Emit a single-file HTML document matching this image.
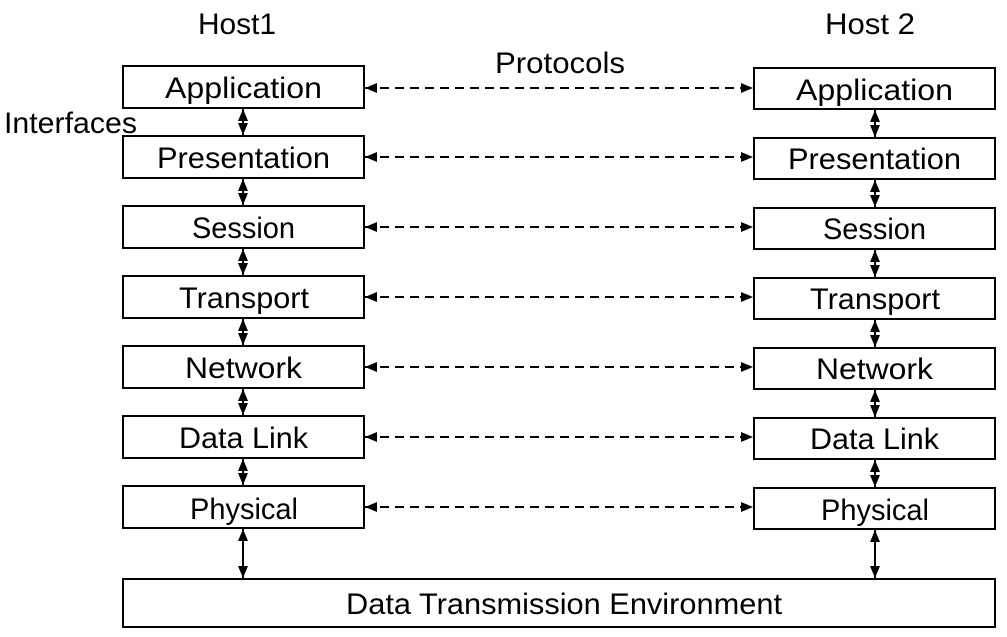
<!DOCTYPE html>
<html><head><meta charset="utf-8"><style>
html,body{margin:0;padding:0;background:#fff;}
svg{display:block;}
text{font-family:"Liberation Sans",sans-serif;font-size:30px;fill:#000;}
</style></head><body>
<svg width="1007" height="637" viewBox="0 0 1007 637" xmlns="http://www.w3.org/2000/svg">
<defs>
<marker id="a" viewBox="0 0 12 10" refX="12" refY="5" markerWidth="12" markerHeight="10" markerUnits="userSpaceOnUse" orient="auto-start-reverse">
<path d="M0,0 L12,5 L0,10 z" fill="#000"/></marker>
</defs>
<text x="198" y="34" textLength="78" lengthAdjust="spacingAndGlyphs">Host1</text>
<text x="825" y="34" textLength="90" lengthAdjust="spacingAndGlyphs">Host 2</text>
<text x="495" y="73" textLength="130" lengthAdjust="spacingAndGlyphs">Protocols</text>
<text x="4" y="133" textLength="133" lengthAdjust="spacingAndGlyphs">Interfaces</text>
<g fill="none" stroke="#000" stroke-width="2">
<rect x="123" y="66" width="241" height="42"/>
<rect x="123" y="136" width="241" height="42"/>
<rect x="123" y="206" width="241" height="42"/>
<rect x="123" y="276" width="241" height="42"/>
<rect x="123" y="346" width="241" height="42"/>
<rect x="123" y="416" width="241" height="42"/>
<rect x="123" y="486" width="241" height="42"/>
<rect x="754" y="68" width="241" height="41"/>
<rect x="754" y="138" width="241" height="41"/>
<rect x="754" y="208" width="241" height="41"/>
<rect x="754" y="278" width="241" height="41"/>
<rect x="754" y="348" width="241" height="41"/>
<rect x="754" y="418" width="241" height="41"/>
<rect x="754" y="488" width="241" height="41"/>
<rect x="123" y="579" width="872" height="48"/>
</g>
<g stroke="#000" stroke-width="2" stroke-dasharray="9,6" marker-start="url(#a)" marker-end="url(#a)">
<line x1="365" y1="88" x2="753" y2="88"/>
<line x1="365" y1="157" x2="753" y2="157"/>
<line x1="365" y1="227" x2="753" y2="227"/>
<line x1="365" y1="297" x2="753" y2="297"/>
<line x1="365" y1="367" x2="753" y2="367"/>
<line x1="365" y1="437" x2="753" y2="437"/>
<line x1="365" y1="507" x2="753" y2="507"/>
</g>
<g stroke="#000" stroke-width="2" marker-start="url(#a)" marker-end="url(#a)">
<line x1="243" y1="109" x2="243" y2="135"/>
<line x1="243" y1="179" x2="243" y2="205"/>
<line x1="243" y1="249" x2="243" y2="275"/>
<line x1="243" y1="319" x2="243" y2="345"/>
<line x1="243" y1="389" x2="243" y2="415"/>
<line x1="243" y1="459" x2="243" y2="485"/>
<line x1="243" y1="529" x2="243" y2="578"/>
<line x1="875" y1="110" x2="875" y2="137"/>
<line x1="875" y1="180" x2="875" y2="207"/>
<line x1="875" y1="250" x2="875" y2="277"/>
<line x1="875" y1="320" x2="875" y2="347"/>
<line x1="875" y1="390" x2="875" y2="417"/>
<line x1="875" y1="460" x2="875" y2="487"/>
<line x1="875" y1="530" x2="875" y2="578"/>
</g>
<g>
<text x="165" y="98" textLength="157" lengthAdjust="spacingAndGlyphs">Application</text>
<text x="157" y="168" textLength="173" lengthAdjust="spacingAndGlyphs">Presentation</text>
<text x="192" y="238" textLength="103" lengthAdjust="spacingAndGlyphs">Session</text>
<text x="179" y="308" textLength="130" lengthAdjust="spacingAndGlyphs">Transport</text>
<text x="185" y="378" textLength="117" lengthAdjust="spacingAndGlyphs">Network</text>
<text x="179" y="448" textLength="129" lengthAdjust="spacingAndGlyphs">Data Link</text>
<text x="190" y="519" textLength="108" lengthAdjust="spacingAndGlyphs">Physical</text>
<text x="796" y="100" textLength="157" lengthAdjust="spacingAndGlyphs">Application</text>
<text x="788" y="169" textLength="173" lengthAdjust="spacingAndGlyphs">Presentation</text>
<text x="823" y="239" textLength="103" lengthAdjust="spacingAndGlyphs">Session</text>
<text x="810" y="309" textLength="130" lengthAdjust="spacingAndGlyphs">Transport</text>
<text x="816" y="379" textLength="117" lengthAdjust="spacingAndGlyphs">Network</text>
<text x="810" y="449" textLength="129" lengthAdjust="spacingAndGlyphs">Data Link</text>
<text x="821" y="520" textLength="108" lengthAdjust="spacingAndGlyphs">Physical</text>
<text x="346" y="614" textLength="436" lengthAdjust="spacingAndGlyphs">Data Transmission Environment</text>
</g>
</svg>
</body></html>
